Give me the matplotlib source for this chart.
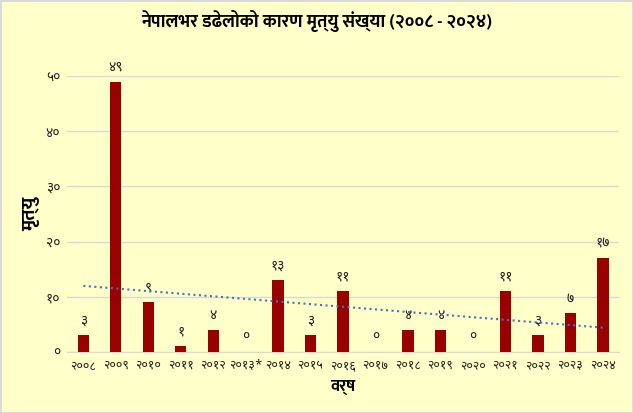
import matplotlib
matplotlib.use('Agg')
import matplotlib.pyplot as plt
import numpy as np

plt.rcParams['font.family'] = ['Noto Sans Devanagari', 'DejaVu Sans']

# वर्ष र मृत्यु संख्या
years = ['२००८', '२००९', '२०१०', '२०११', '२०१२', '२०१३*', '२०१४', '२०१५', '२०१६',
         '२०१७', '२०१८', '२०१९', '२०२०', '२०२१', '२०२२', '२०२३', '२०२४']
deaths = [3, 49, 9, 1, 4, 0, 13, 3, 11, 0, 4, 4, 0, 11, 3, 7, 17]
yticks = [0, 10, 20, 30, 40, 50]

dev = str.maketrans('0123456789', '०१२३४५६७८९')

bg = '#FFFFCA'
fig = plt.figure(figsize=(6.33, 4.13), dpi=100, facecolor=bg)
ax = fig.add_axes([0.106, 0.148, 0.872, 0.668])
ax.set_facecolor(bg)

x = np.arange(len(years))
ax.bar(x, deaths, width=0.35, color='#990000', zorder=3)

# रेखीय ट्रेन्डलाइन
k, b = np.polyfit(x, deaths, 1)
ax.plot(x[[0, -1]], k * x[[0, -1]] + b, linestyle=':', color='#4472C4', lw=1.5, zorder=4)

for xi, v in zip(x, deaths):
    ax.text(xi, v + 1.2, str(v).translate(dev), ha='center', va='bottom', fontsize=10, color='#222222')

ax.set_xlim(-0.5, len(years) - 0.5)
ax.set_ylim(0, 50)
ax.set_xticks(x)
ax.set_xticklabels(years, fontsize=9)
ax.set_yticks(yticks)
ax.set_yticklabels([str(t).translate(dev) for t in yticks], fontsize=10)
ax.tick_params(length=0, pad=5, colors='#222222')
ax.grid(axis='y', color='#D9D9D9', lw=1, zorder=0)
for s in ['top', 'right', 'left']:
    ax.spines[s].set_visible(False)
ax.spines['bottom'].set_color('#D9D9D9')

bold = ['Mukta', 'DejaVu Sans']
ax.set_xlabel('वर्ष', fontsize=12, fontweight='bold', family=bold, labelpad=5)
ax.set_ylabel('मृत्यु', fontsize=14, fontweight='bold', family=bold, labelpad=4)
fig.suptitle('नेपालभर डढेलोको कारण मृत्यु संख्या (२००८ - २०२४)', fontsize=13,
             fontweight='bold', family=bold, y=0.975)

# चार्ट किनारा
fig.patches.append(plt.Rectangle((0, 0), 1, 1, transform=fig.transFigure, fill=False,
                                 edgecolor='#D9D9D9', lw=2))

fig.savefig('out.png', dpi=100, facecolor=bg)
